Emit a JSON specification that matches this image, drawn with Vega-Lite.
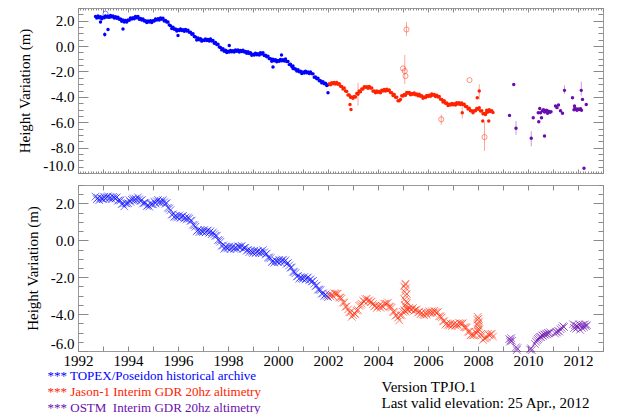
{
"$schema":"https://vega.github.io/schema/vega-lite/v6.json",
"padding":{"left":17,"top":7,"right":27,"bottom":3},
"background":"white",
"config":{
 "view":{"stroke":"#9a9a9a","strokeWidth":1},
 "axis":{"domain":false,"grid":false,"labelFont":"Liberation Serif","labelFontSize":15,"labelColor":"#000","tickColor":"#8a8a8a","tickWidth":1,"titleFont":"Liberation Serif","titleFontSize":15,"titleFontWeight":"normal","titleColor":"#000"},
 "concat":{"spacing":10}
},
"datasets":{
"d":[
{"t":1992.70,"m":"T","h":2.34,"s":2.37},{"t":1992.75,"m":"T","h":2.22,"s":2.23},{"t":1992.80,"m":"T","h":2.37,"s":2.30},{"t":1992.85,"m":"T","h":2.24,"s":2.18},{"t":1992.90,"m":"T","h":2.31,"s":2.30},{"t":1992.95,"m":"T","h":2.16,"s":2.26},{"t":1993.00,"m":"T","h":2.28,"s":2.24},{"t":1993.05,"m":"T","h":2.23,"s":2.36},{"t":1993.10,"m":"T","h":2.38,"s":2.25},{"t":1993.15,"m":"T","h":2.28,"s":2.34},
{"t":1993.20,"m":"T","h":2.36,"s":2.39},{"t":1993.25,"m":"T","h":2.26,"s":2.27},{"t":1993.30,"m":"T","h":2.42,"s":2.35},{"t":1993.35,"m":"T","h":2.30,"s":2.24},{"t":1993.40,"m":"T","h":2.37,"s":2.36},{"t":1993.45,"m":"T","h":2.21,"s":2.31},{"t":1993.50,"m":"T","h":2.31,"s":2.27},{"t":1993.55,"m":"T","h":2.20,"s":2.33},{"t":1993.60,"m":"T","h":2.28,"s":2.15},{"t":1993.65,"m":"T","h":2.12,"s":2.18},
{"t":1993.70,"m":"T","h":2.13,"s":2.16},{"t":1993.75,"m":"T","h":1.96,"s":1.97},{"t":1993.80,"m":"T","h":2.06,"s":1.99},{"t":1993.85,"m":"T","h":1.90,"s":1.84},{"t":1993.90,"m":"T","h":2.02,"s":2.01},{"t":1993.95,"m":"T","h":1.90,"s":2.00},{"t":1994.00,"m":"T","h":2.06,"s":2.02},{"t":1994.05,"m":"T","h":2.04,"s":2.17},{"t":1994.10,"m":"T","h":2.21,"s":2.08},{"t":1994.15,"m":"T","h":2.14,"s":2.20},
{"t":1994.20,"m":"T","h":2.24,"s":2.27},{"t":1994.25,"m":"T","h":2.15,"s":2.16},{"t":1994.30,"m":"T","h":2.33,"s":2.26},{"t":1994.35,"m":"T","h":2.24,"s":2.18},{"t":1994.40,"m":"T","h":2.34,"s":2.33},{"t":1994.45,"m":"T","h":2.12,"s":2.22},{"t":1994.50,"m":"T","h":2.17,"s":2.13},{"t":1994.55,"m":"T","h":2.06,"s":2.19},{"t":1994.60,"m":"T","h":2.13,"s":2.00},{"t":1994.65,"m":"T","h":1.98,"s":2.04},
{"t":1994.70,"m":"T","h":2.00,"s":2.03},{"t":1994.75,"m":"T","h":1.85,"s":1.86},{"t":1994.80,"m":"T","h":1.97,"s":1.90},{"t":1994.85,"m":"T","h":1.89,"s":1.83},{"t":1994.90,"m":"T","h":1.99,"s":1.98},{"t":1994.95,"m":"T","h":1.86,"s":1.96},{"t":1995.00,"m":"T","h":1.99,"s":1.95},{"t":1995.05,"m":"T","h":1.97,"s":2.10},{"t":1995.10,"m":"T","h":2.13,"s":2.00},{"t":1995.15,"m":"T","h":2.06,"s":2.12},
{"t":1995.20,"m":"T","h":2.16,"s":2.19},{"t":1995.25,"m":"T","h":2.05,"s":2.06},{"t":1995.30,"m":"T","h":2.22,"s":2.15},{"t":1995.35,"m":"T","h":2.11,"s":2.05},{"t":1995.40,"m":"T","h":2.19,"s":2.18},{"t":1995.45,"m":"T","h":1.97,"s":2.07},{"t":1995.50,"m":"T","h":2.02,"s":1.98},{"t":1995.55,"m":"T","h":1.90,"s":2.03},{"t":1995.60,"m":"T","h":1.90,"s":1.77},{"t":1995.65,"m":"T","h":1.67,"s":1.73},
{"t":1995.70,"m":"T","h":1.61,"s":1.64},{"t":1995.75,"m":"T","h":1.38,"s":1.39},{"t":1995.80,"m":"T","h":1.48,"s":1.41},{"t":1995.85,"m":"T","h":1.32,"s":1.26},{"t":1995.90,"m":"T","h":1.34,"s":1.33},{"t":1995.95,"m":"T","h":1.18,"s":1.28},{"t":1996.00,"m":"T","h":1.28,"s":1.24},{"t":1996.05,"m":"T","h":1.22,"s":1.35},{"t":1996.10,"m":"T","h":1.34,"s":1.21},{"t":1996.15,"m":"T","h":1.23,"s":1.29},
{"t":1996.20,"m":"T","h":1.29,"s":1.32},{"t":1996.25,"m":"T","h":1.17,"s":1.18},{"t":1996.30,"m":"T","h":1.31,"s":1.24},{"t":1996.35,"m":"T","h":1.19,"s":1.13},{"t":1996.40,"m":"T","h":1.25,"s":1.24},{"t":1996.45,"m":"T","h":1.08,"s":1.18},{"t":1996.50,"m":"T","h":1.10,"s":1.06},{"t":1996.55,"m":"T","h":0.94,"s":1.07},{"t":1996.60,"m":"T","h":0.98,"s":0.85},{"t":1996.65,"m":"T","h":0.75,"s":0.81},
{"t":1996.70,"m":"T","h":0.71,"s":0.74},{"t":1996.75,"m":"T","h":0.48,"s":0.49},{"t":1996.80,"m":"T","h":0.63,"s":0.56},{"t":1996.85,"m":"T","h":0.50,"s":0.44},{"t":1996.90,"m":"T","h":0.57,"s":0.56},{"t":1996.95,"m":"T","h":0.39,"s":0.49},{"t":1997.00,"m":"T","h":0.49,"s":0.45},{"t":1997.05,"m":"T","h":0.43,"s":0.56},{"t":1997.10,"m":"T","h":0.56,"s":0.43},{"t":1997.15,"m":"T","h":0.44,"s":0.50},
{"t":1997.20,"m":"T","h":0.51,"s":0.54},{"t":1997.25,"m":"T","h":0.40,"s":0.41},{"t":1997.30,"m":"T","h":0.56,"s":0.49},{"t":1997.35,"m":"T","h":0.40,"s":0.34},{"t":1997.40,"m":"T","h":0.44,"s":0.43},{"t":1997.45,"m":"T","h":0.23,"s":0.33},{"t":1997.50,"m":"T","h":0.29,"s":0.25},{"t":1997.55,"m":"T","h":0.12,"s":0.25},{"t":1997.60,"m":"T","h":0.15,"s":0.02},{"t":1997.65,"m":"T","h":-0.07,"s":-0.01},
{"t":1997.70,"m":"T","h":-0.11,"s":-0.08},{"t":1997.75,"m":"T","h":-0.30,"s":-0.29},{"t":1997.80,"m":"T","h":-0.21,"s":-0.28},{"t":1997.85,"m":"T","h":-0.40,"s":-0.46},{"t":1997.90,"m":"T","h":-0.33,"s":-0.34},{"t":1997.95,"m":"T","h":-0.50,"s":-0.40},{"t":1998.00,"m":"T","h":-0.40,"s":-0.44},{"t":1998.05,"m":"T","h":-0.47,"s":-0.34},{"t":1998.10,"m":"T","h":-0.35,"s":-0.48},{"t":1998.15,"m":"T","h":-0.45,"s":-0.39},
{"t":1998.20,"m":"T","h":-0.37,"s":-0.34},{"t":1998.25,"m":"T","h":-0.47,"s":-0.46},{"t":1998.30,"m":"T","h":-0.30,"s":-0.37},{"t":1998.35,"m":"T","h":-0.40,"s":-0.46},{"t":1998.40,"m":"T","h":-0.31,"s":-0.32},{"t":1998.45,"m":"T","h":-0.46,"s":-0.36},{"t":1998.50,"m":"T","h":-0.34,"s":-0.38},{"t":1998.55,"m":"T","h":-0.43,"s":-0.30},{"t":1998.60,"m":"T","h":-0.33,"s":-0.46},{"t":1998.65,"m":"T","h":-0.47,"s":-0.41},
{"t":1998.70,"m":"T","h":-0.43,"s":-0.40},{"t":1998.75,"m":"T","h":-0.57,"s":-0.56},{"t":1998.80,"m":"T","h":-0.44,"s":-0.51},{"t":1998.85,"m":"T","h":-0.58,"s":-0.64},{"t":1998.90,"m":"T","h":-0.53,"s":-0.54},{"t":1998.95,"m":"T","h":-0.72,"s":-0.62},{"t":1999.00,"m":"T","h":-0.64,"s":-0.68},{"t":1999.05,"m":"T","h":-0.70,"s":-0.57},{"t":1999.10,"m":"T","h":-0.57,"s":-0.70},{"t":1999.15,"m":"T","h":-0.68,"s":-0.62},
{"t":1999.20,"m":"T","h":-0.61,"s":-0.58},{"t":1999.25,"m":"T","h":-0.70,"s":-0.69},{"t":1999.30,"m":"T","h":-0.53,"s":-0.60},{"t":1999.35,"m":"T","h":-0.62,"s":-0.68},{"t":1999.40,"m":"T","h":-0.52,"s":-0.53},{"t":1999.45,"m":"T","h":-0.75,"s":-0.65},{"t":1999.50,"m":"T","h":-0.72,"s":-0.76},{"t":1999.55,"m":"T","h":-0.85,"s":-0.72},{"t":1999.60,"m":"T","h":-0.80,"s":-0.93},{"t":1999.65,"m":"T","h":-0.99,"s":-0.93},
{"t":1999.70,"m":"T","h":-1.00,"s":-0.97},{"t":1999.75,"m":"T","h":-1.19,"s":-1.18},{"t":1999.80,"m":"T","h":-1.04,"s":-1.11},{"t":1999.85,"m":"T","h":-1.15,"s":-1.21},{"t":1999.90,"m":"T","h":-1.08,"s":-1.09},{"t":1999.95,"m":"T","h":-1.24,"s":-1.14},{"t":2000.00,"m":"T","h":-1.14,"s":-1.18},{"t":2000.05,"m":"T","h":-1.19,"s":-1.06},{"t":2000.10,"m":"T","h":-1.05,"s":-1.18},{"t":2000.15,"m":"T","h":-1.15,"s":-1.09},
{"t":2000.20,"m":"T","h":-1.08,"s":-1.05},{"t":2000.25,"m":"T","h":-1.18,"s":-1.17},{"t":2000.30,"m":"T","h":-1.01,"s":-1.08},{"t":2000.35,"m":"T","h":-1.21,"s":-1.27},{"t":2000.40,"m":"T","h":-1.22,"s":-1.23},{"t":2000.45,"m":"T","h":-1.46,"s":-1.36},{"t":2000.50,"m":"T","h":-1.44,"s":-1.48},{"t":2000.55,"m":"T","h":-1.60,"s":-1.47},{"t":2000.60,"m":"T","h":-1.57,"s":-1.70},{"t":2000.65,"m":"T","h":-1.78,"s":-1.72},
{"t":2000.70,"m":"T","h":-1.81,"s":-1.78},{"t":2000.75,"m":"T","h":-1.97,"s":-1.96},{"t":2000.80,"m":"T","h":-1.86,"s":-1.93},{"t":2000.85,"m":"T","h":-2.02,"s":-2.08},{"t":2000.90,"m":"T","h":-1.99,"s":-2.00},{"t":2000.95,"m":"T","h":-2.16,"s":-2.06},{"t":2001.00,"m":"T","h":-2.05,"s":-2.09},{"t":2001.05,"m":"T","h":-2.12,"s":-1.99},{"t":2001.10,"m":"T","h":-1.99,"s":-2.12},{"t":2001.15,"m":"T","h":-2.11,"s":-2.05},
{"t":2001.20,"m":"T","h":-2.04,"s":-2.01},{"t":2001.25,"m":"T","h":-2.17,"s":-2.16},{"t":2001.30,"m":"T","h":-2.04,"s":-2.11},{"t":2001.35,"m":"T","h":-2.17,"s":-2.23},{"t":2001.40,"m":"T","h":-2.19,"s":-2.20},{"t":2001.45,"m":"T","h":-2.45,"s":-2.35},{"t":2001.50,"m":"T","h":-2.44,"s":-2.48},{"t":2001.55,"m":"T","h":-2.58,"s":-2.45},{"t":2001.60,"m":"T","h":-2.54,"s":-2.67},{"t":2001.65,"m":"T","h":-2.73,"s":-2.67},
{"t":2001.70,"m":"T","h":-2.73,"s":-2.70},{"t":2001.75,"m":"T","h":-2.90,"s":-2.89},{"t":2001.80,"m":"T","h":-2.81,"s":-2.88},{"t":2001.85,"m":"T","h":-2.96,"s":-3.02},{"t":2001.90,"m":"T","h":-2.92,"s":-2.93},{"t":2001.95,"m":"T","h":-3.11,"s":-3.01},{"t":2002.00,"m":"T","h":-3.04,"s":-3.08},
{"t":1993.07,"m":"T","h":0.92,"lo":0.72,"hi":1.12},{"t":1993.20,"m":"T","h":1.30},{"t":1992.90,"m":"T","h":1.90},{"t":1993.80,"m":"T","h":1.34},{"t":1996.00,"m":"T","h":0.84},{"t":1998.05,"m":"T","h":0.05},{"t":1999.80,"m":"T","h":-1.65},{"t":2000.14,"m":"T","h":-0.71},{"t":2000.60,"m":"T","h":-1.76},{"t":2002.00,"m":"T","h":-3.67},{"t":1993.10,"m":"T","h":2.55,"o":1},
{"t":2002.05,"m":"J","h":-2.96,"s":-2.93},{"t":2002.10,"m":"J","h":-3.05,"s":-3.04},{"t":2002.15,"m":"J","h":-2.88,"s":-2.95},{"t":2002.20,"m":"J","h":-2.97,"s":-3.03},{"t":2002.25,"m":"J","h":-2.86,"s":-2.87},{"t":2002.30,"m":"J","h":-2.99,"s":-2.89},{"t":2002.35,"m":"J","h":-2.86,"s":-2.90},{"t":2002.40,"m":"J","h":-3.01,"s":-2.88},{"t":2002.45,"m":"J","h":-2.97,"s":-3.10},{"t":2002.50,"m":"J","h":-3.16,"s":-3.10},
{"t":2002.55,"m":"J","h":-3.18,"s":-3.15},{"t":2002.60,"m":"J","h":-3.38,"s":-3.37},{"t":2002.65,"m":"J","h":-3.31,"s":-3.38},{"t":2002.70,"m":"J","h":-3.54,"s":-3.60},{"t":2002.75,"m":"J","h":-3.57,"s":-3.58},{"t":2002.80,"m":"J","h":-3.85,"s":-3.75},{"t":2002.85,"m":"J","h":-3.86,"s":-3.90},{"t":2002.90,"m":"J","h":-4.03,"s":-3.90},{"t":2002.95,"m":"J","h":-4.02,"s":-4.15},{"t":2003.00,"m":"J","h":-4.12,"s":-4.06},
{"t":2003.05,"m":"J","h":-3.98,"s":-3.95},{"t":2003.10,"m":"J","h":-4.02,"s":-4.01},{"t":2003.15,"m":"J","h":-3.74,"s":-3.81},{"t":2003.20,"m":"J","h":-3.72,"s":-3.78},{"t":2003.25,"m":"J","h":-3.54,"s":-3.55},{"t":2003.30,"m":"J","h":-3.60,"s":-3.50},{"t":2003.35,"m":"J","h":-3.39,"s":-3.43},{"t":2003.40,"m":"J","h":-3.39,"s":-3.26},{"t":2003.45,"m":"J","h":-3.20,"s":-3.33},{"t":2003.50,"m":"J","h":-3.25,"s":-3.19},
{"t":2003.55,"m":"J","h":-3.20,"s":-3.17},{"t":2003.60,"m":"J","h":-3.32,"s":-3.31},{"t":2003.65,"m":"J","h":-3.18,"s":-3.25},{"t":2003.70,"m":"J","h":-3.30,"s":-3.36},{"t":2003.75,"m":"J","h":-3.31,"s":-3.32},{"t":2003.80,"m":"J","h":-3.55,"s":-3.45},{"t":2003.85,"m":"J","h":-3.53,"s":-3.57},{"t":2003.90,"m":"J","h":-3.67,"s":-3.54},{"t":2003.95,"m":"J","h":-3.54,"s":-3.67},{"t":2004.00,"m":"J","h":-3.64,"s":-3.58},
{"t":2004.05,"m":"J","h":-3.57,"s":-3.54},{"t":2004.10,"m":"J","h":-3.67,"s":-3.66},{"t":2004.15,"m":"J","h":-3.47,"s":-3.54},{"t":2004.20,"m":"J","h":-3.54,"s":-3.60},{"t":2004.25,"m":"J","h":-3.42,"s":-3.43},{"t":2004.30,"m":"J","h":-3.54,"s":-3.44},{"t":2004.35,"m":"J","h":-3.40,"s":-3.44},{"t":2004.40,"m":"J","h":-3.50,"s":-3.37},{"t":2004.45,"m":"J","h":-3.46,"s":-3.59},{"t":2004.50,"m":"J","h":-3.66,"s":-3.60},
{"t":2004.55,"m":"J","h":-3.68,"s":-3.65},{"t":2004.60,"m":"J","h":-3.89,"s":-3.88},{"t":2004.65,"m":"J","h":-3.82,"s":-3.89},{"t":2004.70,"m":"J","h":-4.03,"s":-4.09},{"t":2004.75,"m":"J","h":-4.04,"s":-4.05},{"t":2004.80,"m":"J","h":-4.30,"s":-4.20},{"t":2004.85,"m":"J","h":-4.30,"s":-4.34},{"t":2004.90,"m":"J","h":-4.20,"s":-4.07},{"t":2004.95,"m":"J","h":-3.92,"s":-4.05},{"t":2005.00,"m":"J","h":-3.94,"s":-3.88},
{"t":2005.05,"m":"J","h":-3.82,"s":-3.79},{"t":2005.10,"m":"J","h":-3.88,"s":-3.87},{"t":2005.15,"m":"J","h":-3.66,"s":-3.73},{"t":2005.20,"m":"J","h":-3.72,"s":-3.78},{"t":2005.25,"m":"J","h":-3.65,"s":-3.66},{"t":2005.30,"m":"J","h":-3.83,"s":-3.73},{"t":2005.35,"m":"J","h":-3.73,"s":-3.77},{"t":2005.40,"m":"J","h":-3.80,"s":-3.67},{"t":2005.45,"m":"J","h":-3.69,"s":-3.82},{"t":2005.50,"m":"J","h":-3.83,"s":-3.77},
{"t":2005.55,"m":"J","h":-3.78,"s":-3.75},{"t":2005.60,"m":"J","h":-3.92,"s":-3.91},{"t":2005.65,"m":"J","h":-3.80,"s":-3.87},{"t":2005.70,"m":"J","h":-3.95,"s":-4.01},{"t":2005.75,"m":"J","h":-3.91,"s":-3.92},{"t":2005.80,"m":"J","h":-4.12,"s":-4.02},{"t":2005.85,"m":"J","h":-4.02,"s":-4.06},{"t":2005.90,"m":"J","h":-4.05,"s":-3.92},{"t":2005.95,"m":"J","h":-3.90,"s":-4.03},{"t":2006.00,"m":"J","h":-3.98,"s":-3.92},
{"t":2006.05,"m":"J","h":-3.88,"s":-3.85},{"t":2006.10,"m":"J","h":-3.96,"s":-3.95},{"t":2006.15,"m":"J","h":-3.77,"s":-3.84},{"t":2006.20,"m":"J","h":-3.88,"s":-3.94},{"t":2006.25,"m":"J","h":-3.81,"s":-3.82},{"t":2006.30,"m":"J","h":-3.98,"s":-3.88},{"t":2006.35,"m":"J","h":-3.88,"s":-3.92},{"t":2006.40,"m":"J","h":-4.01,"s":-3.88},{"t":2006.45,"m":"J","h":-3.98,"s":-4.11},{"t":2006.50,"m":"J","h":-4.18,"s":-4.12},
{"t":2006.55,"m":"J","h":-4.21,"s":-4.18},{"t":2006.60,"m":"J","h":-4.40,"s":-4.39},{"t":2006.65,"m":"J","h":-4.31,"s":-4.38},{"t":2006.70,"m":"J","h":-4.50,"s":-4.56},{"t":2006.75,"m":"J","h":-4.49,"s":-4.50},{"t":2006.80,"m":"J","h":-4.68,"s":-4.58},{"t":2006.85,"m":"J","h":-4.58,"s":-4.62},{"t":2006.90,"m":"J","h":-4.64,"s":-4.51},{"t":2006.95,"m":"J","h":-4.52,"s":-4.65},{"t":2007.00,"m":"J","h":-4.63,"s":-4.57},
{"t":2007.05,"m":"J","h":-4.55,"s":-4.52},{"t":2007.10,"m":"J","h":-4.64,"s":-4.63},{"t":2007.15,"m":"J","h":-4.47,"s":-4.54},{"t":2007.20,"m":"J","h":-4.56,"s":-4.62},{"t":2007.25,"m":"J","h":-4.47,"s":-4.48},{"t":2007.30,"m":"J","h":-4.61,"s":-4.51},{"t":2007.35,"m":"J","h":-4.48,"s":-4.52},{"t":2007.40,"m":"J","h":-4.62,"s":-4.49},{"t":2007.45,"m":"J","h":-4.58,"s":-4.71},{"t":2007.50,"m":"J","h":-4.77,"s":-4.71},
{"t":2007.55,"m":"J","h":-4.76,"s":-4.73},{"t":2007.60,"m":"J","h":-4.96,"s":-4.95},{"t":2007.65,"m":"J","h":-4.89,"s":-4.96},{"t":2007.70,"m":"J","h":-5.09,"s":-5.15},{"t":2007.75,"m":"J","h":-5.10,"s":-5.11},{"t":2007.80,"m":"J","h":-5.25,"s":-5.15},{"t":2007.85,"m":"J","h":-5.09,"s":-5.13},{"t":2007.90,"m":"J","h":-5.10,"s":-4.97},{"t":2007.95,"m":"J","h":-4.92,"s":-5.05},{"t":2008.00,"m":"J","h":-4.98,"s":-4.92},
{"t":2008.05,"m":"J","h":-4.86,"s":-4.83},{"t":2008.10,"m":"J","h":-5.11,"s":-5.10},{"t":2008.15,"m":"J","h":-5.09,"s":-5.16},{"t":2008.20,"m":"J","h":-5.34,"s":-5.40},{"t":2008.25,"m":"J","h":-5.31,"s":-5.32},{"t":2008.30,"m":"J","h":-5.40,"s":-5.30},{"t":2008.35,"m":"J","h":-5.21,"s":-5.25},{"t":2008.40,"m":"J","h":-5.20,"s":-5.07},{"t":2008.45,"m":"J","h":-5.02,"s":-5.15},{"t":2008.50,"m":"J","h":-5.15,"s":-5.09},
{"t":2008.55,"m":"J","h":-5.10,"s":-5.07},{"t":2008.60,"m":"J","h":-5.23,"s":-5.22},
{"t":2002.88,"m":"J","h":-4.60},{"t":2002.92,"m":"J","h":-5.00},{"t":2003.20,"m":"J","h":-3.80,"lo":-4.70,"hi":-2.90},{"t":2007.37,"m":"J","h":-5.25,"lo":-5.70,"hi":-4.80},{"t":2007.97,"m":"J","h":-4.07},{"t":2008.05,"m":"J","h":-3.54,"lo":-4.20,"hi":-3.00},{"t":2008.19,"m":"J","h":-5.90},{"t":2008.43,"m":"J","h":-5.90},{"t":2008.35,"m":"J","h":-5.06},
{"t":2005.14,"m":"J","h":1.31,"o":1,"lo":0.80,"hi":1.90},{"t":2005.00,"m":"J","h":-1.76,"o":1},{"t":2005.07,"m":"J","h":-1.97,"o":1,"lo":-3.00,"hi":-0.70},{"t":2005.10,"m":"J","h":-2.36,"o":1},{"t":2006.53,"m":"J","h":-5.77,"o":1,"lo":-6.20,"hi":-5.40},{"t":2007.66,"m":"J","h":-2.68,"o":1},{"t":2008.26,"m":"J","h":-7.17,"o":1,"lo":-8.27,"hi":-6.00},
{"t":2005.04,"m":"J","s":-2.50},{"t":2005.06,"m":"J","s":-3.20},{"t":2005.07,"m":"J","s":-2.80},{"t":2005.08,"m":"J","s":-3.50},{"t":2005.09,"m":"J","s":-2.40},{"t":2005.10,"m":"J","s":-3.00},{"t":2005.11,"m":"J","s":-3.60},{"t":2005.12,"m":"J","s":-2.60},{"t":2005.13,"m":"J","s":-3.30},{"t":2005.15,"m":"J","s":-2.90},{"t":2005.16,"m":"J","s":-3.40},{"t":2005.10,"m":"J","s":-2.35},
{"t":2007.97,"m":"J","s":-4.30},{"t":2007.98,"m":"J","s":-4.60},{"t":2007.99,"m":"J","s":-4.15},{"t":2008.00,"m":"J","s":-4.50},{"t":2008.01,"m":"J","s":-4.80},{"t":2008.02,"m":"J","s":-4.25},{"t":2008.03,"m":"J","s":-4.65},{"t":2008.04,"m":"J","s":-4.40},
{"t":2009.26,"m":"O","h":-5.46},{"t":2009.43,"m":"O","h":-3.02},{"t":2009.52,"m":"O","h":-6.48,"lo":-7.00,"hi":-5.90},{"t":2010.13,"m":"O","h":-7.27,"lo":-7.90,"hi":-6.70},{"t":2010.21,"m":"O","h":-5.64},{"t":2010.41,"m":"O","h":-5.25},{"t":2010.43,"m":"O","h":-5.96},{"t":2010.47,"m":"O","h":-4.91},{"t":2010.50,"m":"O","h":-5.25},{"t":2010.54,"m":"O","h":-5.64},
{"t":2010.58,"m":"O","h":-5.10},{"t":2010.62,"m":"O","h":-5.02},{"t":2010.66,"m":"O","h":-5.20},{"t":2010.70,"m":"O","h":-5.12},{"t":2010.74,"m":"O","h":-5.05},{"t":2010.78,"m":"O","h":-5.30},{"t":2010.82,"m":"O","h":-5.14},{"t":2010.87,"m":"O","h":-5.22},{"t":2010.92,"m":"O","h":-5.18},{"t":2010.66,"m":"O","h":-7.09},
{"t":2011.10,"m":"O","h":-4.72},{"t":2011.22,"m":"O","h":-4.64},{"t":2011.16,"m":"O","h":-4.85},{"t":2011.30,"m":"O","h":-5.10},{"t":2011.38,"m":"O","h":-5.30},{"t":2011.46,"m":"O","h":-3.49,"lo":-3.75,"hi":-3.10},{"t":2011.78,"m":"O","h":-4.07},{"t":2011.84,"m":"O","h":-5.02},{"t":2011.88,"m":"O","h":-4.90},{"t":2011.92,"m":"O","h":-4.98},
{"t":2011.96,"m":"O","h":-5.05},{"t":2012.00,"m":"O","h":-4.95},{"t":2012.05,"m":"O","h":-5.00},{"t":2012.10,"m":"O","h":-4.93},{"t":2012.14,"m":"O","h":-5.05},{"t":2011.86,"m":"O","h":-4.72},{"t":2012.13,"m":"O","h":-3.49,"lo":-3.90,"hi":-2.80},{"t":2012.18,"m":"O","h":-4.20},{"t":2012.24,"m":"O","h":-9.63},{"t":2012.33,"m":"O","h":-4.60},
{"t":2009.25,"m":"O","s":-5.35},{"t":2009.28,"m":"O","s":-5.50},{"t":2009.30,"m":"O","s":-5.42},{"t":2009.33,"m":"O","s":-5.30},{"t":2009.36,"m":"O","s":-5.45},{"t":2009.52,"m":"O","s":-5.80},{"t":2009.55,"m":"O","s":-5.95},{"t":2009.57,"m":"O","s":-5.85},{"t":2010.08,"m":"O","s":-5.92},{"t":2010.12,"m":"O","s":-5.85},{"t":2010.15,"m":"O","s":-5.95},
{"t":2010.28,"m":"O","s":-5.62},{"t":2010.32,"m":"O","s":-5.50},{"t":2010.36,"m":"O","s":-5.42},{"t":2010.40,"m":"O","s":-5.35},{"t":2010.44,"m":"O","s":-5.28},{"t":2010.48,"m":"O","s":-5.22},{"t":2010.52,"m":"O","s":-5.25},{"t":2010.56,"m":"O","s":-5.15},{"t":2010.60,"m":"O","s":-5.18},{"t":2010.64,"m":"O","s":-5.10},{"t":2010.68,"m":"O","s":-5.12},{"t":2010.72,"m":"O","s":-5.05},{"t":2010.76,"m":"O","s":-5.10},{"t":2010.80,"m":"O","s":-5.02},{"t":2010.84,"m":"O","s":-5.05},{"t":2010.88,"m":"O","s":-4.98},
{"t":2011.08,"m":"O","s":-5.05},{"t":2011.12,"m":"O","s":-4.95},{"t":2011.16,"m":"O","s":-5.00},{"t":2011.20,"m":"O","s":-4.90},{"t":2011.25,"m":"O","s":-4.95},{"t":2011.30,"m":"O","s":-4.82},{"t":2011.35,"m":"O","s":-4.75},{"t":2011.40,"m":"O","s":-4.65},{"t":2011.44,"m":"O","s":-4.70},
{"t":2011.80,"m":"O","s":-4.55},{"t":2011.84,"m":"O","s":-4.75},{"t":2011.88,"m":"O","s":-4.60},{"t":2011.92,"m":"O","s":-4.80},{"t":2011.96,"m":"O","s":-4.65},{"t":2012.00,"m":"O","s":-4.70},{"t":2012.04,"m":"O","s":-4.55},{"t":2012.08,"m":"O","s":-4.85},{"t":2012.12,"m":"O","s":-4.62},{"t":2012.16,"m":"O","s":-4.75},{"t":2012.20,"m":"O","s":-4.58},{"t":2012.24,"m":"O","s":-4.70},{"t":2012.28,"m":"O","s":-4.55},{"t":2012.32,"m":"O","s":-4.66},{"t":2012.36,"m":"O","s":-4.60}
],
"notes":[
{"t":1990.78,"v":-7.35,"g":"T","txt":"*** TOPEX/Poseidon historical archive"},
{"t":1990.78,"v":-8.22,"g":"J","txt":"*** Jason-1 Interim GDR 20hz altimetry"},
{"t":1990.78,"v":-9.08,"g":"O","txt":"*** OSTM\u00a0 Interim GDR 20hz altimetry"},
{"t":2004.14,"v":-7.95,"g":"V","txt":"Version TPJO.1"},
{"t":2004.14,"v":-8.81,"g":"V","txt":"Last valid elevation: 25 Apr., 2012"}
]
},
"resolve":{"scale":{"x":"independent","y":"independent"}},
"vconcat":[
{
"width":525,"height":165,
"resolve":{"axis":{"x":"independent","y":"independent"}},
"layer":[
{"data":{"name":"d"},"transform":[{"filter":"isValid(datum.h) && datum.o != 1"}],
 "mark":{"type":"circle","size":12,"opacity":1},
 "encoding":{
  "x":{"field":"t","type":"quantitative","scale":{"domain":[1992,2013],"nice":false,"zero":false},
   "axis":{"orient":"bottom","values":[1992,1993,1994,1995,1996,1997,1998,1999,2000,2001,2002,2003,2004,2005,2006,2007,2008,2009,2010,2011,2012,2013],"labels":false,"tickSize":-4,"title":null}},
  "y":{"field":"h","type":"quantitative","scale":{"domain":[-10,3],"nice":false,"zero":false},
   "axis":{"orient":"left","values":[-10,-8,-6,-4,-2,0,2],"tickSize":-10,"labelPadding":14,"labelFlush":true,"labelExpr":"(datum.value<0?'-':'')+format(abs(datum.value),'.1f')","title":"Height Variation (m)","titlePadding":10}},
  "color":{"field":"m","type":"nominal","scale":{"domain":["T","J","O","V"],"range":["#0000ff","#ff2200","#6a0dad","#000000"]},"legend":null}
 }},
{"data":{"name":"d"},"transform":[{"filter":"isValid(datum.lo)"}],
 "mark":{"type":"rule","opacity":0.4,"strokeWidth":1},
 "encoding":{
  "x":{"field":"t","type":"quantitative","scale":{"domain":[1992,2013],"nice":false,"zero":false},
   "axis":{"orient":"top","values":[1992,1993,1994,1995,1996,1997,1998,1999,2000,2001,2002,2003,2004,2005,2006,2007,2008,2009,2010,2011,2012,2013],"labels":false,"tickSize":-4,"title":null}},
  "y":{"field":"lo","type":"quantitative","scale":{"domain":[-10,3],"nice":false,"zero":false},
   "axis":{"orient":"right","values":[-10,-8,-6,-4,-2,0,2],"labels":false,"tickSize":-10,"title":null}},
  "y2":{"field":"hi"},
  "color":{"field":"m","type":"nominal","scale":{"domain":["T","J","O","V"],"range":["#0000ff","#ff2200","#6a0dad","#000000"]},"legend":null}
 }},
{"data":{"name":"d"},"transform":[{"filter":"datum.o == 1"}],
 "mark":{"type":"point","filled":false,"size":26,"opacity":0.5,"strokeWidth":1},
 "encoding":{
  "x":{"field":"t","type":"quantitative","scale":{"domain":[1992,2013],"nice":false,"zero":false},
   "axis":{"orient":"bottom","tickCount":210,"labels":false,"tickSize":-2,"title":null}},
  "y":{"field":"h","type":"quantitative","scale":{"domain":[-10,3],"nice":false,"zero":false},
   "axis":{"orient":"left","tickCount":26,"labels":false,"tickSize":-5,"title":null}},
  "color":{"field":"m","type":"nominal","scale":{"domain":["T","J","O","V"],"range":["#0000ff","#ff2200","#6a0dad","#000000"]},"legend":null}
 }},
{"mark":{"type":"rule","color":"#444444","strokeWidth":1},
 "encoding":{
  "x":{"datum":1992,"type":"quantitative","scale":{"domain":[1992,2013],"nice":false,"zero":false},
   "axis":{"orient":"top","tickCount":210,"labels":false,"tickSize":-2,"title":null}},
  "x2":{"datum":2013},
  "y":{"datum":0,"type":"quantitative","scale":{"domain":[-10,3],"nice":false,"zero":false},
   "axis":{"orient":"right","tickCount":26,"labels":false,"tickSize":-5,"title":null}}
 }}
]
},
{
"width":525,"height":166,
"resolve":{"axis":{"x":"independent","y":"independent"}},
"layer":[
{"data":{"name":"d"},"transform":[{"filter":"datum.m == 'T' && isValid(datum.s)"}],
 "mark":{"type":"point","shape":"M-1,-1L1,1M-1,1L1,-1","filled":false,"size":58,"strokeWidth":1,"opacity":0.55,"color":"#0000ff"},
 "encoding":{
  "x":{"field":"t","type":"quantitative","scale":{"domain":[1992,2013],"nice":false,"zero":false},
   "axis":{"orient":"bottom","values":[1992,1993,1994,1995,1996,1997,1998,1999,2000,2001,2002,2003,2004,2005,2006,2007,2008,2009,2010,2011,2012,2013],"tickSize":-5,"labelPadding":7,"labelFlush":false,"labelExpr":"datum.value % 2 == 0 ? format(datum.value,'d') : ''","title":null}},
  "y":{"field":"s","type":"quantitative","scale":{"domain":[-6,3],"nice":false,"zero":false},
   "axis":{"orient":"left","values":[-6,-4,-2,0,2],"tickSize":-10,"labelPadding":14,"labelFlush":true,"labelExpr":"(datum.value<0?'-':'')+format(abs(datum.value),'.1f')","title":"Height Variation (m)","titlePadding":10}}
 }},
{"data":{"name":"d"},"transform":[{"filter":"datum.m == 'J' && isValid(datum.s)"}],
 "mark":{"type":"point","shape":"M-1,-1L1,1M-1,1L1,-1","filled":false,"size":58,"strokeWidth":1,"opacity":0.55,"color":"#ff2200"},
 "encoding":{
  "x":{"field":"t","type":"quantitative","scale":{"domain":[1992,2013],"nice":false,"zero":false},
   "axis":{"orient":"top","values":[1992,1993,1994,1995,1996,1997,1998,1999,2000,2001,2002,2003,2004,2005,2006,2007,2008,2009,2010,2011,2012,2013],"labels":false,"tickSize":-5,"title":null}},
  "y":{"field":"s","type":"quantitative","scale":{"domain":[-6,3],"nice":false,"zero":false},
   "axis":{"orient":"right","values":[-6,-4,-2,0,2],"labels":false,"tickSize":-10,"title":null}}
 }},
{"data":{"name":"d"},"transform":[{"filter":"datum.m == 'O' && isValid(datum.s)"}],
 "mark":{"type":"point","shape":"M-1,-1L1,1M-1,1L1,-1","filled":false,"size":58,"strokeWidth":1,"opacity":0.6,"color":"#6a0dad"},
 "encoding":{
  "x":{"field":"t","type":"quantitative","scale":{"domain":[1992,2013],"nice":false,"zero":false},"axis":null},
  "y":{"field":"s","type":"quantitative","scale":{"domain":[-6,3],"nice":false,"zero":false},
   "axis":{"orient":"left","tickCount":18,"labels":false,"tickSize":-5,"title":null}}
 }},
{"data":{"name":"notes"},"transform":[{"filter":"datum.g != 'V'"}],
 "mark":{"type":"text","align":"left","baseline":"middle","font":"Liberation Serif","fontSize":13},
 "encoding":{
  "x":{"field":"t","type":"quantitative","scale":{"domain":[1992,2013],"nice":false,"zero":false},"axis":null},
  "y":{"field":"v","type":"quantitative","scale":{"domain":[-6,3],"nice":false,"zero":false},
   "axis":{"orient":"right","tickCount":18,"labels":false,"tickSize":-5,"title":null}},
  "text":{"field":"txt"},
  "color":{"field":"g","type":"nominal","scale":{"domain":["T","J","O","V"],"range":["#0000ff","#ff2200","#6a0dad","#000000"]},"legend":null}
 }},
{"data":{"name":"notes"},"transform":[{"filter":"datum.g == 'V'"}],
 "mark":{"type":"text","align":"left","baseline":"middle","font":"Liberation Serif","fontSize":15,"color":"#000000"},
 "encoding":{
  "x":{"field":"t","type":"quantitative","scale":{"domain":[1992,2013],"nice":false,"zero":false},"axis":null},
  "y":{"field":"v","type":"quantitative","scale":{"domain":[-6,3],"nice":false,"zero":false},"axis":null},
  "text":{"field":"txt"}
 }}
]
}
]
}
